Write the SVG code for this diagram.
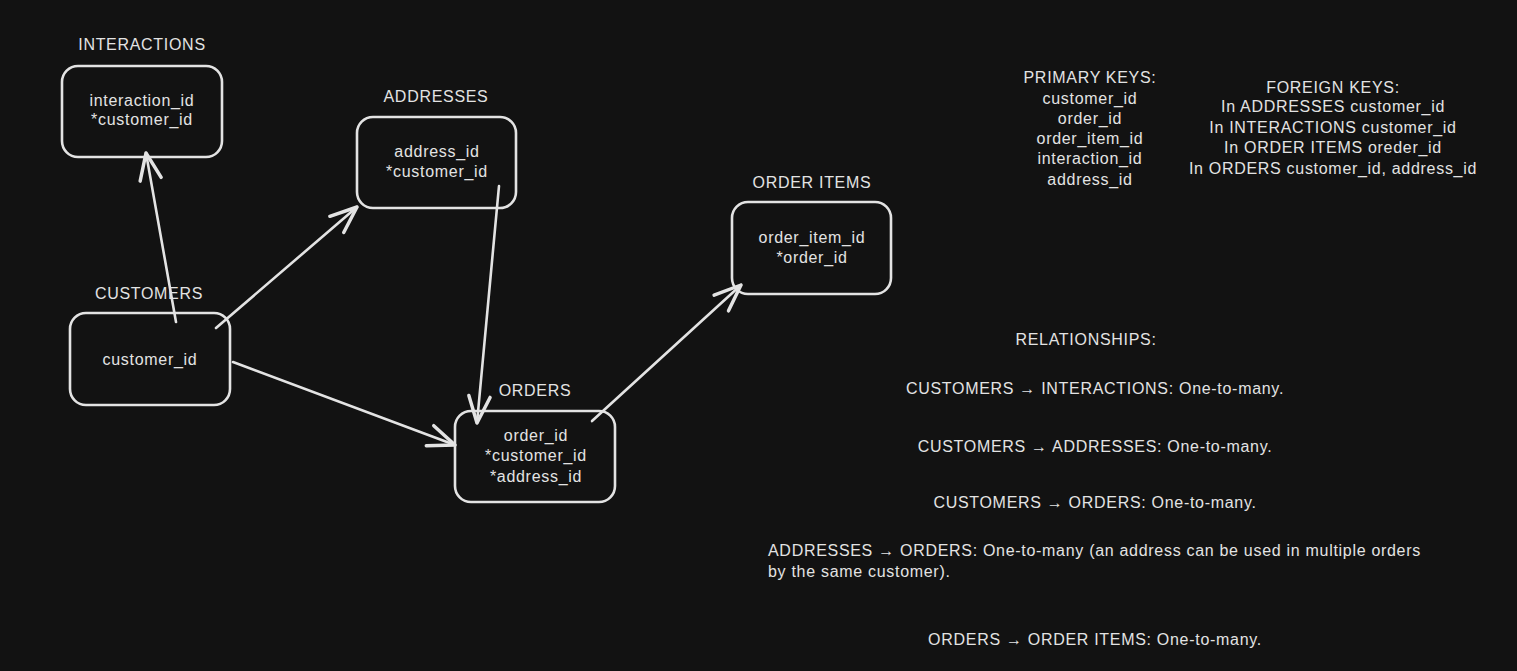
<svg xmlns="http://www.w3.org/2000/svg" width="1517" height="671" viewBox="0 0 1517 671">
<style>
.bg{fill:#121212}
.box{fill:none;stroke:#e3e3e3;stroke-width:2.6;stroke-linejoin:round}
.t{font-family:"Liberation Sans","Open Sans",sans-serif;font-size:16px;letter-spacing:0.7px;fill:#e3e3e3;text-anchor:middle}
.tl{text-anchor:start}
.edge{fill:none;stroke:#e3e3e3;stroke-width:2.6;stroke-linecap:round}
</style>
<defs>
<marker id="ah" markerUnits="userSpaceOnUse" markerWidth="40" markerHeight="40" viewBox="-25 -15 30 30" refX="0" refY="0" orient="auto">
<path d="M-20,-8 L0,0 L-20,8" fill="none" stroke="#e3e3e3" stroke-width="2.6" stroke-linecap="round" stroke-linejoin="round"/>
</marker>
</defs>
<rect class="bg" x="0" y="0" width="1517" height="671"/>

<g id="connectors">
<path class="edge" d="M176,322 L146,153" marker-end="url(#ah)"/>
<path class="edge" d="M216,328 L357,207" marker-end="url(#ah)"/>
<path class="edge" d="M233,362 L455,445" marker-end="url(#ah)"/>
<path class="edge" d="M499,186 L477,423" marker-end="url(#ah)"/>
<path class="edge" d="M592,421 L741,285" marker-end="url(#ah)"/>
</g>

<g id="interactions">
<text class="t" x="142" y="50">INTERACTIONS</text>
<rect class="box" x="62" y="66" width="160" height="91" rx="16"/>
<text class="t" x="142" y="106">interaction_id</text>
<text class="t" x="142" y="125">*customer_id</text>
</g>

<g id="addresses">
<text class="t" x="436" y="102">ADDRESSES</text>
<rect class="box" x="357" y="117" width="159" height="91" rx="16"/>
<text class="t" x="437" y="157">address_id</text>
<text class="t" x="437" y="177">*customer_id</text>
</g>

<g id="customers">
<text class="t" x="149" y="299">CUSTOMERS</text>
<rect class="box" x="70" y="313" width="160" height="92" rx="16"/>
<text class="t" x="150" y="365">customer_id</text>
</g>

<g id="orders">
<text class="t" x="535" y="396">ORDERS</text>
<rect class="box" x="455" y="411" width="160" height="91" rx="16"/>
<text class="t" x="536" y="441">order_id</text>
<text class="t" x="536" y="461">*customer_id</text>
<text class="t" x="536" y="482">*address_id</text>
</g>

<g id="order-items">
<text class="t" x="812" y="188">ORDER ITEMS</text>
<rect class="box" x="732" y="202" width="159" height="92" rx="16"/>
<text class="t" x="812" y="243">order_item_id</text>
<text class="t" x="812" y="263">*order_id</text>
</g>

<g id="primary-keys">
<text class="t" x="1090" y="83">PRIMARY KEYS:</text>
<text class="t" x="1090" y="104">customer_id</text>
<text class="t" x="1090" y="124">order_id</text>
<text class="t" x="1090" y="144">order_item_id</text>
<text class="t" x="1090" y="164">interaction_id</text>
<text class="t" x="1090" y="185">address_id</text>
</g>

<g id="foreign-keys">
<text class="t" x="1333" y="93">FOREIGN KEYS:</text>
<text class="t" x="1333" y="112">In ADDRESSES customer_id</text>
<text class="t" x="1333" y="133">In INTERACTIONS customer_id</text>
<text class="t" x="1333" y="153">In ORDER ITEMS oreder_id</text>
<text class="t" x="1333" y="174">In ORDERS customer_id, address_id</text>
</g>

<g id="relationships">
<text class="t" x="1086" y="345">RELATIONSHIPS:</text>
<text class="t" x="1095" y="394">CUSTOMERS → INTERACTIONS: One-to-many.</text>
<text class="t" x="1095" y="452">CUSTOMERS → ADDRESSES: One-to-many.</text>
<text class="t" x="1095" y="508">CUSTOMERS → ORDERS: One-to-many.</text>
<text class="t tl" x="768" y="556">ADDRESSES → ORDERS: One-to-many (an address can be used in multiple orders</text>
<text class="t tl" x="768" y="577">by the same customer).</text>
<text class="t" x="1095" y="645">ORDERS → ORDER ITEMS: One-to-many.</text>
</g>
</svg>
